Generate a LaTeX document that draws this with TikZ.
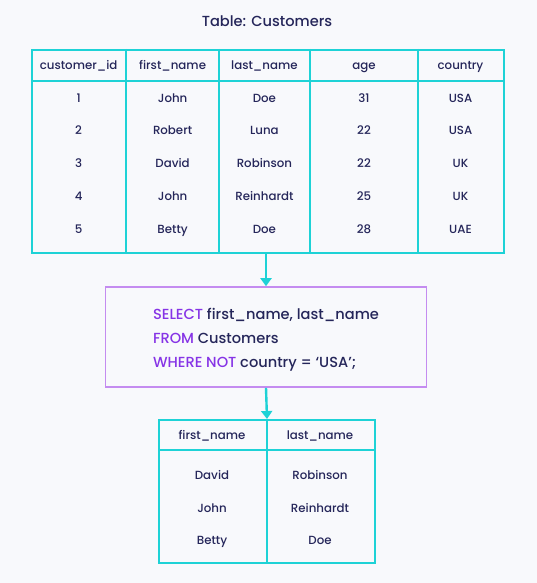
\documentclass[tikz,border=0pt]{standalone}
\usepackage{fontspec}
\setmainfont{Poppins Medium}
\usetikzlibrary{arrows.meta, positioning}
\definecolor{pagebg}{RGB}{248, 249, 252}
\definecolor{gridteal}{RGB}{30, 210, 214}
\definecolor{querypurple}{RGB}{196, 140, 240}
\definecolor{keyword}{RGB}{134, 52, 230}
\definecolor{inktext}{RGB}{37, 38, 90}

\begin{document}
\begin{tikzpicture}[
    x=1pt, y=-1pt, >={Triangle[length=8pt, width=11pt]},
    tablebox/.style={rectangle, draw=gridteal, line width=2pt, inner sep=0pt, anchor=north west},
    gridline/.style={draw=gridteal, line width=2pt},
    cell/.style={text=inktext, font=\fontsize{11.8}{13}\selectfont, inner sep=0pt, anchor=mid},
    querybox/.style={rectangle, draw=querypurple, line width=1.6pt, fill=pagebg, minimum width=321pt, minimum height=100pt, inner sep=0pt},
    querytext/.style={align=left, text=inktext, font=\fontsize{14.6}{24}\selectfont, inner sep=0pt},
    flow/.style={draw=gridteal, ->, line width=2.4pt}
  ]
    \useasboundingbox (0,0) rectangle (537,583);
    \fill[pagebg] (0,0) rectangle (537,583);

    \node (title) [text=inktext, font=\fontsize{14.6}{17}\selectfont, anchor=mid] at (267,24) {Table: Customers};

    % source table
    \node (customers) [tablebox, minimum width=472pt, minimum height=202.6pt] at (30.8,49) {};
    \draw[gridline] (customers.west |- 0,81.5) -- (customers.east |- 0,81.5);
    \foreach \cx in {126.4, 218.8, 310, 418}
      \draw[gridline] (\cx,49) -- (\cx,251.6);
    \foreach \cx/\txt [count=\i] in {78.6/customer\_id, 172.6/first\_name, 264.4/last\_name, 364/age, 460.5/country}
      \node (head\i) [cell] at (\cx,67) {\txt};
    \foreach \ry/\id/\fn/\ln/\ag/\co [count=\r] in {100/1/John/Doe/31/USA, 132/2/Robert/Luna/22/USA, 165/3/David/Robinson/22/UK, 198/4/John/Reinhardt/25/UK, 231/5/Betty/Doe/28/UAE} {
      \node (id\r) [cell] at (78.6,\ry) {\id};
      \node (fn\r) [cell] at (172.6,\ry) {\fn};
      \node (ln\r) [cell] at (264.4,\ry) {\ln};
      \node (ag\r) [cell] at (364,\ry) {\ag};
      \node (co\r) [cell] at (460.5,\ry) {\co};
    }

    % query
    \node (query) [querybox] at (266,337) {};
    \node (querytext) [querytext] at (266,340) {\textcolor{keyword}{SELECT} first\_name, last\_name\\\textcolor{keyword}{FROM} Customers\\\textcolor{keyword}{WHERE NOT} country = ‘USA’;};

    % result table
    \node (result) [tablebox, minimum width=216pt, minimum height=143pt] at (158,419) {};
    \draw[gridline] (result.west |- 0,450) -- (result.east |- 0,450);
    \draw[gridline] (result.north) -- (result.south);
    \node (rhead1) [cell] at (212,437) {first\_name};
    \node (rhead2) [cell] at (320,437) {last\_name};
    \foreach \ry/\fn/\ln [count=\r] in {477/David/Robinson, 510/John/Reinhardt, 542/Betty/Doe} {
      \node (rfn\r) [cell] at (212,\ry) {\fn};
      \node (rln\r) [cell] at (320,\ry) {\ln};
    }

    \draw[flow] (customers.south -| query.north) -- (query.north);
    \draw[flow] (query.south) -- (result.north);
\end{tikzpicture}
\end{document}
